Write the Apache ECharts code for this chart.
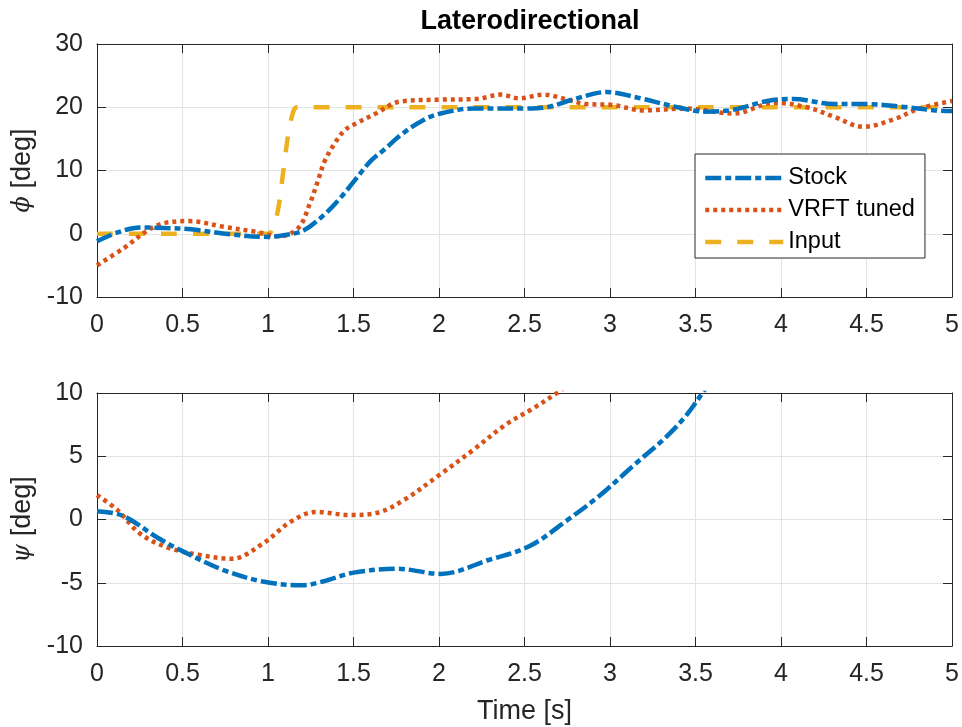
<!DOCTYPE html>
<html>
<head>
<meta charset="utf-8">
<title>Laterodirectional</title>
<script src="https://cdn.jsdelivr.net/npm/echarts@6/dist/echarts.min.js"></script>
<style>
  html, body { margin: 0; padding: 0; background: #fff; }
  #main { width: 962px; height: 727px; }
</style>
</head>
<body>
<div id="main"></div>
<script>
// roll angle phi [deg] vs time [s]
var stockPhi = [
  [0, -1.2], [0.12, 0.2], [0.25, 1.0], [0.4, 0.9], [0.55, 0.7], [0.78, -0.1],
  [1.0, -0.5], [1.1, -0.2], [1.207, 0.5], [1.324, 2.9], [1.421, 5.6], [1.5, 8.2],
  [1.597, 11.4], [1.675, 13.2], [1.79, 15.9], [1.91, 18.0], [2.006, 19.0],
  [2.2, 19.8], [2.5, 19.8], [2.63, 20.0], [2.78, 21.2], [2.98, 22.4], [3.18, 21.4],
  [3.38, 20.1], [3.56, 19.3], [3.72, 19.6], [3.92, 21.0], [4.07, 21.3], [4.31, 20.5],
  [4.5, 20.5], [4.7, 20.1], [4.9, 19.5], [5, 19.4]
];
var vrftPhi = [
  [0, -5.0], [0.15, -2.4], [0.35, 1.3], [0.54, 2.0], [0.74, 1.1], [0.93, 0.3],
  [1.07, -0.4], [1.18, 1.0], [1.245, 4.8], [1.29, 8.2], [1.33, 11.4], [1.39, 14.3],
  [1.45, 16.4], [1.52, 17.5], [1.63, 19.0], [1.77, 20.9], [2.0, 21.2], [2.22, 21.3],
  [2.36, 22.0], [2.47, 21.4], [2.61, 22.0], [2.75, 21.2], [2.86, 20.5], [3.0, 20.4],
  [3.2, 19.5], [3.45, 19.8], [3.72, 19.0], [3.96, 20.7], [4.15, 20.0], [4.31, 18.5],
  [4.48, 16.9], [4.66, 18.1], [4.81, 19.8], [5, 21.0]
];
var inputPhi = [
  [0, 0], [1.0, 0], [1.03, 1], [1.06, 4], [1.09, 10], [1.12, 16], [1.15, 19.5],
  [1.17, 20], [5, 20]
];

// yaw angle psi [deg] vs time [s]
var stockPsi = [
  [0, 0.66], [0.15, 0.3], [0.35, -1.4], [0.5, -2.5], [0.74, -4.0], [0.97, -4.9],
  [1.2, -5.2], [1.32, -4.9], [1.5, -4.2], [1.76, -3.9], [2.01, -4.3], [2.29, -3.2],
  [2.53, -2.1], [2.75, -0.05], [2.94, 1.9], [3.14, 4.3], [3.33, 6.55], [3.45, 8.3],
  [3.54, 10.0], [3.6, 11.2]
];
var vrftPsi = [
  [0, 1.93], [0.12, 0.74], [0.25, -1.1], [0.41, -2.2], [0.6, -2.8], [0.79, -3.1],
  [0.97, -1.9], [1.13, -0.2], [1.28, 0.6], [1.48, 0.35], [1.63, 0.5], [1.79, 1.5],
  [2.0, 3.5], [2.2, 5.5], [2.39, 7.5], [2.54, 8.7], [2.69, 10.0], [2.75, 10.6]
];

var seriesNames = ['Stock', 'VRFT tuned', 'Input'];

var FONT = '"Liberation Sans", Arial, sans-serif';
var INK = '#262626';
var colors = ['#0072BD', '#D95319', '#EDB120'];
var dashDot = [16, 4, 6, 4];
var dotted = [4, 4];
var dashed = [16, 16];

function xAxisPair(gridIndex, withName) {
  var base = {
    type: 'value', gridIndex: gridIndex, min: 0, max: 5, interval: 0.5,
    axisLine: { show: true, onZero: false, lineStyle: { color: INK, width: 1 } },
    axisTick: { show: true, inside: true, length: 9, lineStyle: { color: INK } }
  };
  var bottom = Object.assign({}, base, {
    position: 'bottom',
    axisLabel: { color: INK, fontSize: 25, fontFamily: FONT, margin: 16,
                 formatter: function (v) { return String(v); } },
    splitLine: { show: true, lineStyle: { color: '#e3e3e3', width: 1 } }
  });
  if (withName) {
    bottom.name = 'Time [s]';
    bottom.nameLocation = 'middle';
    bottom.nameGap = 52;
    bottom.nameTextStyle = { color: INK, fontSize: 27, fontFamily: FONT };
  }
  var top = Object.assign({}, base, {
    position: 'top',
    axisLabel: { show: false },
    splitLine: { show: false }
  });
  return [bottom, top];
}

function yAxisPair(gridIndex, min, max, interval, sym) {
  var base = {
    type: 'value', gridIndex: gridIndex, min: min, max: max, interval: interval,
    axisLine: { show: true, onZero: false, lineStyle: { color: INK, width: 1 } },
    axisTick: { show: true, inside: true, length: 9, lineStyle: { color: INK } }
  };
  var left = Object.assign({}, base, {
    position: 'left',
    name: '{i|' + sym + '} [deg]',
    nameLocation: 'middle',
    nameGap: 58,
    nameTextStyle: {
      color: INK, fontSize: 27, fontFamily: FONT,
      rich: { i: { fontStyle: 'italic', fontFamily: '"DejaVu Serif", serif', fontSize: 24, color: INK } }
    },
    axisLabel: { color: INK, fontSize: 25, fontFamily: FONT, margin: 14 },
    splitLine: { show: true, lineStyle: { color: '#e3e3e3', width: 1 } }
  });
  var right = Object.assign({}, base, {
    position: 'right',
    axisLabel: { show: false },
    splitLine: { show: false }
  });
  return [left, right];
}

function lineSeries(name, data, color, dash, xi, yi) {
  return {
    name: name, type: 'line', data: data,
    xAxisIndex: xi, yAxisIndex: yi,
    showSymbol: false, symbol: 'none',
    smooth: 0.35, clip: true,
    lineStyle: { color: color, width: 4.5, type: dash, cap: 'butt' },
    itemStyle: { color: color },
    z: 3
  };
}

var chart = echarts.init(document.getElementById('main'), null, { renderer: 'canvas' });

var option = {
  backgroundColor: '#fff',
  animation: false,
  title: {
    text: 'Laterodirectional',
    left: 525, top: 3, textAlign: 'center',
    textStyle: { color: '#000', fontSize: 27, fontWeight: 'bold', fontFamily: FONT }
  },
  legend: {
    data: seriesNames,
    orient: 'vertical',
    left: 695, top: 154,
    padding: [12, 10, 4, 8],
    itemGap: 8,
    itemWidth: 78, itemHeight: 14,
    backgroundColor: '#fff',
    borderColor: INK, borderWidth: 1,
    textStyle: { color: '#000', fontSize: 23.5, fontFamily: FONT },
    itemStyle: { opacity: 0 },
    lineStyle: { width: 4.5, type: 'inherit', cap: 'butt' }
  },
  grid: [
    { left: 97, right: 9, top: 44, height: 253 },
    { left: 97, right: 9, top: 393, height: 253 }
  ],
  xAxis: xAxisPair(0, false).concat(xAxisPair(1, true)),
  yAxis: yAxisPair(0, -10, 30, 10, 'ϕ').concat(yAxisPair(1, -10, 10, 5, 'ψ')),
  series: [
    lineSeries(seriesNames[2], inputPhi, colors[2], dashed, 0, 0),
    lineSeries(seriesNames[1], vrftPhi, colors[1], dotted, 0, 0),
    lineSeries(seriesNames[0], stockPhi, colors[0], dashDot, 0, 0),
    lineSeries(seriesNames[1], vrftPsi, colors[1], dotted, 2, 2),
    lineSeries(seriesNames[0], stockPsi, colors[0], dashDot, 2, 2)
  ]
};

chart.setOption(option);
</script>
</body>
</html>
